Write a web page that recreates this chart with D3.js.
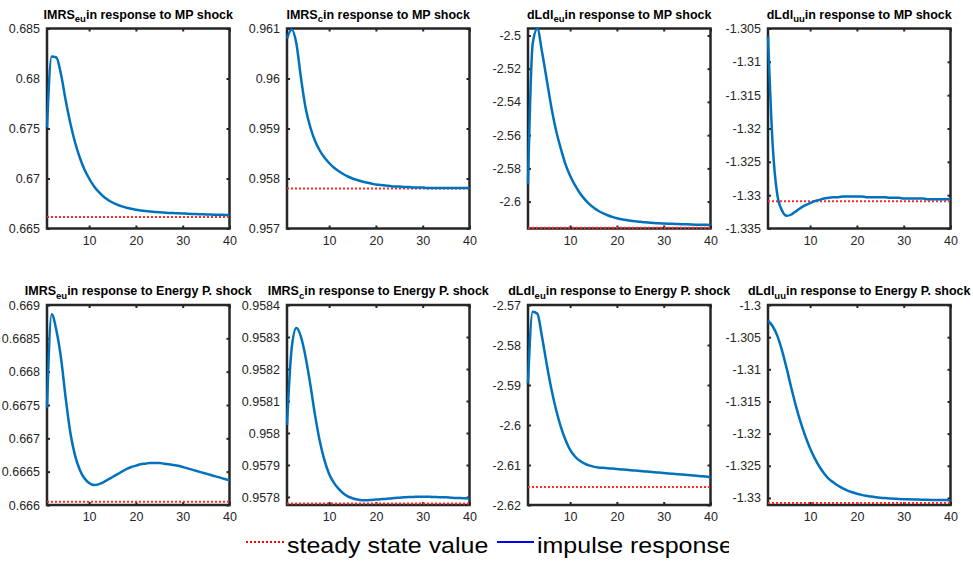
<!DOCTYPE html>
<html><head><meta charset="utf-8">
<script src="https://cdn.jsdelivr.net/npm/d3@7"></script>
<style>body{margin:0;background:#fff}svg{display:block}</style>
</head><body>
<svg id="c" width="973" height="563"></svg>
<script>
const periods = [1,2,3,4,5,6,7,8,9,10,11,12,13,14,15,16,17,18,19,20,21,22,23,24,25,26,27,28,29,30,31,32,33,34,35,36,37,38,39,40];
const varNames = ["IMRS","IMRS","dLdl","dLdl"];
const varSubs = ["eu","c","eu","uu"];
const shockNames = ["MP","Energy P."];
const xTickVals = [10,20,30,40];

const imrsEuMP = [0.6751,0.6822,0.6821,0.6804,0.6778,0.6755,0.6736,0.6721,0.6709,0.6700,0.66925,0.66868,0.66823,0.66788,0.6676,0.66738,0.66721,0.66708,0.66697,0.66688,0.66681,0.66675,0.6667,0.66666,0.66662,0.66659,0.66656,0.66654,0.66652,0.6665,0.66648,0.66646,0.66644,0.66642,0.66641,0.66639,0.66638,0.66637,0.66636,0.66635];
const imrsCMP = [0.9608,0.96098,0.9607,0.9600,0.9594,0.95902,0.95875,0.95856,0.95842,0.95831,0.95822,0.95815,0.95809,0.95804,0.958,0.95797,0.95794,0.95792,0.9579,0.95788,0.95787,0.95786,0.95785,0.95784,0.95784,0.95783,0.95783,0.95782,0.95782,0.95782,0.95781,0.95781,0.95781,0.95781,0.95781,0.95781,0.95781,0.95781,0.95781,0.95781];
const dldlEuMP = [-2.5895,-2.505,-2.496,-2.510,-2.5265,-2.5433,-2.5572,-2.568,-2.5775,-2.5845,-2.59,-2.5945,-2.5982,-2.6012,-2.6036,-2.6055,-2.607,-2.6082,-2.6092,-2.61,-2.6106,-2.6111,-2.6115,-2.6119,-2.6122,-2.6125,-2.6127,-2.6129,-2.6131,-2.6132,-2.6133,-2.6134,-2.6135,-2.6136,-2.6137,-2.6138,-2.6139,-2.614,-2.614,-2.6141];
const dldlUuMP = [-1.3062,-1.3225,-1.33,-1.3323,-1.3331,-1.3329,-1.3324,-1.3319,-1.3315,-1.3312,-1.3309,-1.3307,-1.3305,-1.3304,-1.3303,-1.3303,-1.3302,-1.3302,-1.3302,-1.3302,-1.3302,-1.3303,-1.3303,-1.3303,-1.3303,-1.3303,-1.3304,-1.3304,-1.3304,-1.3305,-1.3305,-1.3305,-1.3305,-1.3305,-1.3306,-1.3306,-1.3306,-1.3306,-1.3306,-1.3306];
const imrsEuEP = [0.66746,0.66886,0.66862,0.6682,0.6676,0.66708,0.66674,0.66653,0.6664,0.66633,0.6663,0.66631,0.66634,0.66638,0.66642,0.66646,0.6665,0.66654,0.66657,0.66659,0.66661,0.66662,0.66663,0.66663,0.66663,0.66662,0.66661,0.6666,0.66659,0.66657,0.66655,0.66653,0.66651,0.66649,0.66647,0.66645,0.66643,0.66641,0.66639,0.66637];
const imrsCEP = [0.958025,0.958265,0.958328,0.9583,0.958235,0.95815,0.958055,0.957975,0.957915,0.957872,0.957845,0.957826,0.957812,0.957802,0.957796,0.957792,0.95779,0.95779,0.957791,0.957792,0.957793,0.957794,0.957795,0.957797,0.957798,0.957799,0.9578,0.9578,0.957801,0.957801,0.957801,0.9578,0.9578,0.957799,0.957799,0.957798,0.957797,0.957797,0.957796,0.957795];
const dldlEuEP = [-2.5896,-2.5717,-2.5722,-2.578,-2.5848,-2.591,-2.5962,-2.6004,-2.6037,-2.6062,-2.6078,-2.6089,-2.6096,-2.6101,-2.6104,-2.6106,-2.6107,-2.6108,-2.6109,-2.611,-2.6111,-2.6112,-2.6113,-2.6114,-2.6115,-2.6116,-2.6117,-2.6118,-2.6119,-2.612,-2.6121,-2.6122,-2.6123,-2.6124,-2.6125,-2.6126,-2.6127,-2.6128,-2.6129,-2.6131];
const dldlUuEP = [-1.30245,-1.3033,-1.3048,-1.3071,-1.3099,-1.31295,-1.3158,-1.3183,-1.32045,-1.3223,-1.32385,-1.32515,-1.3262,-1.32705,-1.3276,-1.3281,-1.3285,-1.32885,-1.32912,-1.32935,-1.32953,-1.32967,-1.32979,-1.32989,-1.32997,-1.33003,-1.33008,-1.33012,-1.33016,-1.33019,-1.33022,-1.33024,-1.33026,-1.33028,-1.3303,-1.33031,-1.33032,-1.33033,-1.33034,-1.33035];

const steadyStates = [0.66615,0.9578,-2.6157,-1.3309,0.66605,0.95778,-2.6155,-1.3308];
const yDomains = [[0.665,0.685],[0.957,0.961],[-2.6162,-2.4958],[-1.335,-1.305],[0.666,0.669],[0.957775,0.9584],[-2.62,-2.57],[-1.3311,-1.3]];
const yTickVals = [
  [0.665,0.67,0.675,0.68,0.685],
  [0.957,0.958,0.959,0.96,0.961],
  [-2.6,-2.58,-2.56,-2.54,-2.52,-2.5],
  [-1.335,-1.33,-1.325,-1.32,-1.315,-1.31,-1.305],
  [0.666,0.6665,0.667,0.6675,0.668,0.6685,0.669],
  [0.9578,0.9579,0.958,0.9581,0.9582,0.9583,0.9584],
  [-2.62,-2.61,-2.6,-2.59,-2.58,-2.57],
  [-1.33,-1.325,-1.32,-1.315,-1.31,-1.305,-1.3]
];
const series = [imrsEuMP,imrsCMP,dldlEuMP,dldlUuMP,imrsEuEP,imrsCEP,dldlEuEP,dldlUuEP];
const legendLabels = ["steady state value","impulse response"];

const FONT = "'Liberation Sans', Arial, Helvetica, sans-serif";
const cols = [47, 287, 528, 768];
const rows = [28.5, 305];
const pw = 182.5, ph = 200;
const titleY = [18.5, 295];
const axCol = "#262626";

const svg = d3.select("#c");
const fmt = v => String(+(+v).toPrecision(6));

series.forEach((vals, i) => {
  const r = Math.floor(i / 4), c = i % 4;
  const g = svg.append("g").attr("transform", `translate(${cols[c]},${rows[r]})`);
  const x = d3.scaleLinear().domain([1, 40]).range([0, pw]);
  const y = d3.scaleLinear().domain(yDomains[i]).range([ph, 0]);

  const axes = [
    g.append("g").attr("transform", `translate(0,${ph})`).call(d3.axisBottom(x).tickValues(xTickVals).tickSize(-3).tickPadding(7.5).tickFormat(fmt)),
    g.append("g").call(d3.axisLeft(y).tickValues(yTickVals[i]).tickSize(-3).tickPadding(7).tickFormat(fmt)),
    g.append("g").call(d3.axisTop(x).tickValues(xTickVals).tickSize(-3).tickFormat("")),
    g.append("g").attr("transform", `translate(${pw},0)`).call(d3.axisRight(y).tickValues(yTickVals[i]).tickSize(-3).tickFormat(""))
  ];
  axes.forEach(a => {
    a.select(".domain").remove();
    a.selectAll(".tick line").attr("stroke", axCol).attr("stroke-width", 2);
    a.selectAll(".tick text").attr("fill", axCol).attr("font-size", 12.5).attr("font-family", FONT);
  });

  g.append("rect").attr("width", pw).attr("height", ph)
    .attr("fill", "none").attr("stroke", axCol).attr("stroke-width", 2.5);

  g.append("path").datum(periods)
    .attr("d", d3.line().x(d => x(d)).y(() => y(steadyStates[i])))
    .attr("fill", "none").attr("stroke", "#ff2a2a").attr("stroke-width", 2)
    .attr("stroke-dasharray", "2,2");

  g.append("path").datum(vals)
    .attr("d", d3.line().curve(d3.curveMonotoneX).x((d, j) => x(periods[j])).y(d => y(d)))
    .attr("fill", "none").attr("stroke", "#0072BD").attr("stroke-width", 2.5)
    .attr("stroke-linejoin", "round");

  const t = svg.append("text")
    .attr("x", cols[c] + pw / 2).attr("y", titleY[r])
    .attr("text-anchor", "middle").attr("font-weight", "bold")
    .attr("font-size", 12.5).attr("font-family", FONT).attr("fill", "#000");
  t.append("tspan").text(varNames[c]);
  t.append("tspan").attr("dy", 3.5).attr("font-size", 9.5).text(varSubs[c]);
  t.append("tspan").attr("dy", -3.5).text(`in response to ${shockNames[r]} shock`);
});

// legend
svg.append("clipPath").attr("id", "legclip").append("rect")
  .attr("x", 0).attr("y", 525).attr("width", 729).attr("height", 38);
const leg = svg.append("g").attr("clip-path", "url(#legclip)");
leg.append("line").attr("x1", 246).attr("x2", 284).attr("y1", 542).attr("y2", 542)
  .attr("stroke", "#ff0000").attr("stroke-width", 2).attr("stroke-dasharray", "2,2");
leg.append("text").attr("transform", "translate(287,553) scale(1.136,1)").attr("font-size", 22)
  .attr("font-family", FONT).attr("fill", "#000").text(legendLabels[0]);
leg.append("line").attr("x1", 497).attr("x2", 534).attr("y1", 542).attr("y2", 542)
  .attr("stroke", "#0000ff").attr("stroke-width", 2);
leg.append("text").attr("transform", "translate(537,553) scale(1.136,1)").attr("font-size", 22)
  .attr("font-family", FONT).attr("fill", "#000").text(legendLabels[1]);
</script>
</body></html>
